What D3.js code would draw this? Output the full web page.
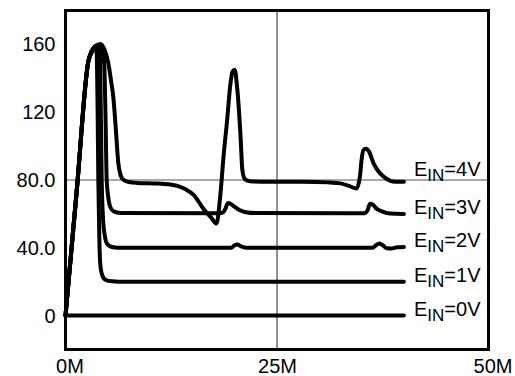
<!DOCTYPE html>
<html>
<head>
<meta charset="utf-8">
<script src="https://cdn.jsdelivr.net/npm/d3@7"></script>
<style>
  body { margin: 0; background: #fff; }
  svg { display: block; }
  text { font-family: "Liberation Sans", Arial, Helvetica, sans-serif; fill: #000; }
</style>
</head>
<body>
<div id="chart"></div>
<script>
// axis ticks
const xTicks = [0, 25, 50];
const xTickLabels = ['0M', '25M', '50M'];
const yTicks = [0, 40, 80, 120, 160];
const yTickLabels = ['0', '40.0', '80.0', '120', '160'];

// curves: [frequency in M, value]
const ein0V = [[0, 0], [40, 0]];
const ein1V = [
  [0, 0], [1.35, 75], [2.7, 150], [3.1, 156], [3.45, 158.5], [3.68, 155], [3.8, 120],
  [3.88, 80], [4.0, 45], [4.1, 31], [4.3, 24.5], [4.7, 21.2], [5.5, 20.2], [6.3, 20], [40, 20]
];
const ein2V = [
  [0, 0], [1.35, 75], [2.7, 150], [3.2, 157], [3.75, 159.5], [4.05, 155], [4.15, 130],
  [4.28, 80], [4.45, 56], [4.65, 47], [4.9, 42.5], [5.4, 40.6], [6.2, 40], [19.6, 40],
  [20.0, 41.5], [20.3, 42], [20.7, 41], [21.3, 40], [36.3, 40], [36.7, 41.5], [37.1, 42.6],
  [37.5, 41.5], [38.0, 39.7], [38.5, 39.6], [39.2, 40.3], [40, 40.5]
];
const ein3V = [
  [0, 0], [1.35, 75], [2.7, 150], [3.3, 157.5], [3.9, 159.5], [4.35, 157], [4.58, 148],
  [4.72, 120], [4.87, 80], [5.05, 70], [5.3, 64], [5.7, 61.5], [6.5, 60.6], [18.0, 60.4],
  [18.6, 60.8], [18.9, 63], [19.2, 66.5], [19.5, 66], [19.9, 64.5], [20.5, 62.5], [21.3, 61],
  [22.5, 60.5], [35.3, 60.4], [35.7, 62], [36.0, 66], [36.3, 65.5], [36.8, 63], [37.4, 61.5],
  [38.4, 60.2], [40, 60]
];
const ein4V = [
  [0, 0], [1.35, 75], [2.7, 150], [3.2, 156], [3.6, 159], [4.15, 160.3], [4.6, 157],
  [5.06, 149], [5.4, 138], [5.65, 129], [5.95, 110], [6.24, 90], [6.45, 84], [6.8, 80.3],
  [7.5, 78.8], [8.4, 78.3], [10.5, 78], [12.4, 77.3], [13.4, 76.3], [14.2, 74.5], [15.2, 71],
  [16.3, 63], [17.3, 57.3], [17.85, 54.3], [18.3, 71], [18.7, 95], [19.1, 115], [19.5, 137],
  [19.75, 144], [20.0, 145], [20.3, 134], [20.7, 105], [20.9, 86], [21.2, 80.5], [21.8, 79.3],
  [24, 79], [28, 79], [31, 78.6], [32.5, 78], [33.5, 76.5], [34.4, 75], [34.8, 82], [35.0, 92],
  [35.2, 97.5], [35.5, 98.5], [35.85, 97], [36.4, 90], [37.0, 85], [37.6, 82], [38.4, 79.5],
  [39.0, 79], [40, 79]
];
const seriesNames = ['0V', '1V', '2V', '3V', '4V'];
const seriesData = [ein0V, ein1V, ein2V, ein3V, ein4V];

const width = 515;
const height = 376;
const margin = { top: 10.5, right: 26.5, bottom: 26.5, left: 65.5 };

const svg = d3.select('#chart').append('svg')
  .attr('width', width)
  .attr('height', height);

const xScale = d3.scaleLinear()
  .domain([0, 50])
  .range([margin.left, width - margin.right]);

const yScale = d3.scaleLinear()
  .domain([-20, 180])
  .range([height - margin.bottom, margin.top]);

// grid lines at 25M and 80.0
svg.append('line')
  .attr('x1', xScale(25)).attr('x2', xScale(25))
  .attr('y1', yScale(180)).attr('y2', yScale(-20))
  .attr('stroke', '#222').attr('stroke-width', 1);
svg.append('line')
  .attr('x1', xScale(0)).attr('x2', xScale(50))
  .attr('y1', yScale(80)).attr('y2', yScale(80))
  .attr('stroke', '#555').attr('stroke-width', 1);

// axes
const yAxis = d3.axisLeft(yScale)
  .tickValues(yTicks)
  .tickFormat((d, i) => yTickLabels[i])
  .tickSize(0)
  .tickPadding(10);
const yg = svg.append('g')
  .attr('transform', `translate(${margin.left},0)`)
  .call(yAxis);
yg.select('.domain').remove();
yg.selectAll('text').style('font-size', '20px').style('font-family', null);

const xAxis = d3.axisBottom(xScale)
  .tickValues(xTicks)
  .tickFormat((d, i) => xTickLabels[i])
  .tickSize(0)
  .tickPadding(9);
const xg = svg.append('g')
  .attr('transform', `translate(0,${height - margin.bottom})`)
  .call(xAxis);
xg.select('.domain').remove();
xg.selectAll('text')
  .style('font-size', '20px').style('font-family', null)
  .attr('dx', (d, i) => i === 1 ? 0 : 4);

// curves
const line = d3.line()
  .x(d => xScale(d[0]))
  .y(d => yScale(d[1]))
  .curve(d3.curveMonotoneX);

seriesData.forEach(data => {
  svg.append('path')
    .datum(data)
    .attr('fill', 'none')
    .attr('stroke', '#000')
    .attr('stroke-width', 4)
    .attr('stroke-linejoin', 'round')
    .attr('stroke-linecap', 'round')
    .attr('d', line);
});

// frame
svg.append('rect')
  .attr('x', margin.left).attr('y', margin.top)
  .attr('width', width - margin.left - margin.right)
  .attr('height', height - margin.top - margin.bottom)
  .attr('fill', 'none')
  .attr('stroke', '#000')
  .attr('stroke-width', 3);

// curve labels at the right ends
seriesData.forEach((data, i) => {
  const last = data[data.length - 1];
  const lift = seriesNames[i] === '4V' ? 6 : 0;
  const t = svg.append('text')
    .attr('x', 414)
    .attr('y', yScale(last[1]) - lift)
    .style('font-size', '20px');
  t.append('tspan').text('E');
  t.append('tspan').attr('dy', 5).style('font-size', '17px').text('IN');
  t.append('tspan').attr('dy', -5).text('=' + seriesNames[i]);
});
</script>
</body>
</html>
